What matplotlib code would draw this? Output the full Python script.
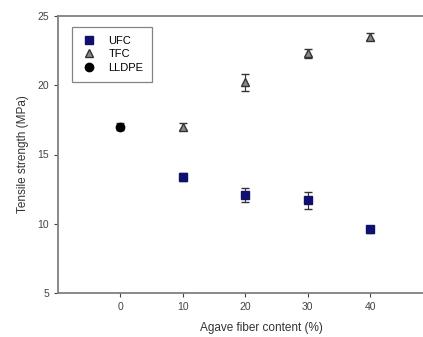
import matplotlib.pyplot as plt
from matplotlib.lines import Line2D

plt.rcParams['font.family'] = ['Liberation Sans', 'DejaVu Sans']

fiber = [10, 20, 30, 40]
ufc = [13.4, 12.1, 11.7, 9.6]
ufc_err = [0.3, 0.5, 0.6, 0.25]
tfc = [17.0, 20.2, 22.3, 23.5]
tfc_err = [0.25, 0.6, 0.3, 0.25]
lldpe_x = [0]
lldpe = [17.0]
lldpe_err = [0.25]

fig = plt.figure(figsize=(4.23, 3.37), dpi=100)
# axes runs past the right edge of the figure, as in the source image
ax = fig.add_axes([58 / 423, 44 / 337, 406 / 423, 277 / 337])

ax.errorbar(fiber, ufc, yerr=ufc_err, fmt='s', color='#10106e', ms=5.5,
            ecolor='#333333', elinewidth=0.8, capsize=3)
ax.errorbar(fiber, tfc, yerr=tfc_err, fmt='^', mfc='#8a8a80', mec='#333333',
            ms=6, ecolor='#333333', elinewidth=0.8, capsize=3)
ax.errorbar(lldpe_x, lldpe, yerr=lldpe_err, fmt='o', color='black', ms=6,
            ecolor='#333333', elinewidth=0.8, capsize=3)

ax.set_xlim(-10, 55)
ax.set_ylim(5, 25)
ax.set_xticks([0, 10, 20, 30, 40])
ax.set_yticks([5, 10, 15, 20, 25])
ax.tick_params(labelsize=7.5, colors='#444444', length=3, width=0.8)
for s in ax.spines.values():
    s.set_color('#808080')
    s.set_linewidth(1.3)

ax.set_xlabel('Agave fiber content (%)', fontsize=8.5, color='#333333', labelpad=7)
ax.set_ylabel('Tensile strength (MPa)', fontsize=8.5, color='#333333', labelpad=6)

handles = [
    Line2D([], [], ls='none', marker='s', color='#10106e', ms=5.5),
    Line2D([], [], ls='none', marker='^', mfc='#8a8a80', mec='#333333', ms=6),
    Line2D([], [], ls='none', marker='o', color='black', ms=6),
]
leg = ax.legend(handles, ['UFC', 'TFC', 'LLDPE'], loc='upper left',
                bbox_to_anchor=(0.02, 0.98), fontsize=8, frameon=True,
                fancybox=False, edgecolor='#666666', handlelength=1.5,
                handletextpad=1.0, borderpad=0.8, labelspacing=0.3)
leg.get_frame().set_linewidth(0.9)

fig.savefig('out.png', dpi=100)
